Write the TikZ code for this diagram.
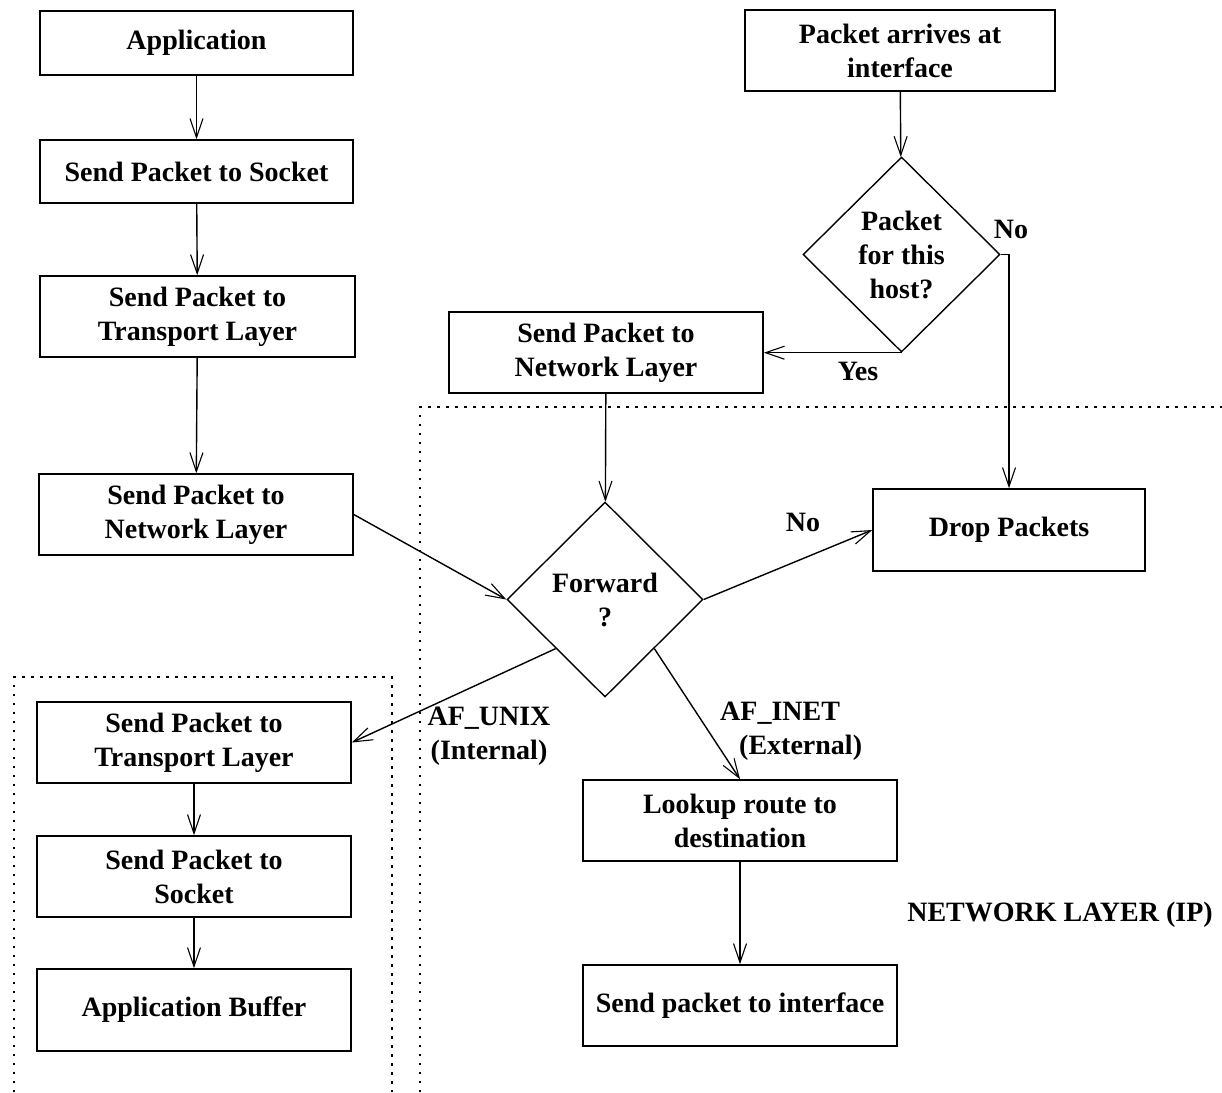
\documentclass[tikz,border=0pt]{standalone}
\usepackage{fontspec}
\setmainfont{Liberation Serif}
\usetikzlibrary{arrows.meta,shapes.geometric}
\begin{document}
\begin{tikzpicture}[x=1pt,y=-1pt,
  txt/.style={font=\bfseries\fontsize{28}{34}\selectfont, align=center, inner sep=0pt},
  box/.style={txt, draw, line width=1.6pt, minimum width=314pt, minimum height=81pt},
  dia/.style={txt, draw, diamond, line width=1.4pt, minimum width=196pt, minimum height=195pt},
  arr/.style={line width=1.4pt, -{Straight Barb[length=19pt,width=13pt,line width=1.1pt]}},
  dots/.style={line width=1.8pt, dash pattern=on 2.5pt off 6.5pt}]
\useasboundingbox (0,0) rectangle (1222,1092);
\fill[white] (0,0) rectangle (1222,1092);

% dotted regions
\draw[dots] (420,1092) -- (420,407) -- (1222,407);
\draw[dots] (14,1092) -- (14,677) -- (392,677) -- (392,1092);

% left column
\node[box, minimum width=313pt, minimum height=64pt] (app) at (196.5,43) {Application};
\node[box, minimum width=313pt, minimum height=63pt] (sock) at (196.5,171.5) {Send Packet to Socket};
\node[box, minimum width=315pt] (trans) at (197.5,316.5) {Send Packet to\\Transport Layer};
\node[box] (netL) at (196,514.5) {Send Packet to\\Network Layer};

% right top
\node[box, minimum width=310pt] (arrive) at (900,50.5) {Packet arrives at\\interface};
\node[dia, minimum width=197pt] (host) at (901.5,254.5) {Packet\\for this\\host?};
\node[box] (netM) at (606,352.5) {Send Packet to\\Network Layer};

% forward
\node[dia] (fwd) at (605,599.5) {Forward\\?};
\node[box, minimum width=272pt, minimum height=82pt] (drop) at (1009,530) {Drop Packets};

% bottom left
\node[box] (trans2) at (194,742.5) {Send Packet to\\Transport Layer};
\node[box] (sock2) at (194,876.5) {Send Packet to\\Socket};
\node[box, minimum height=82pt] (buf) at (194,1010) {Application Buffer};

% bottom right
\node[box] (lookup) at (740,820.5) {Lookup route to\\destination};
\node[box] (iface) at (740,1005.5) {Send packet to interface};

% labels
\node[txt] (lno1) at (1011,229) {No};
\node[txt] (lyes) at (858,371) {Yes};
\node[txt] (lno2) at (803,522) {No};
\node[txt] (lunix) at (489,736) {AF\_UNIX\\(Internal)};
\node[txt, align=left, anchor=west] (linet) at (720,731) {AF\_INET\\\hspace*{19pt}(External)};
\node[txt] (lnet) at (1060,915) {NETWORK LAYER (IP)};

% connectors
\draw[arr] (app) -- (sock);
\draw[arr] (sock) -- (trans);
\draw[arr] (trans) -- (netL);
\draw[arr] (netL.east) -- (fwd.west);
\draw[arr] (arrive) -- (host);
\draw[arr] (host.south) -- (host.south -| netM.east);
\draw[arr] (host.east) -| (drop.north);
\draw[arr] (netM) -- (fwd);
\draw[arr] (fwd.east) -- (drop.west);
\draw[arr] (fwd.south west) -- (trans2.east);
\draw[arr] (fwd.south east) -- (lookup.north);
\draw[arr] (lookup) -- (iface);
\draw[arr] (trans2) -- (sock2);
\draw[arr] (sock2) -- (buf);
\end{tikzpicture}
\end{document}
